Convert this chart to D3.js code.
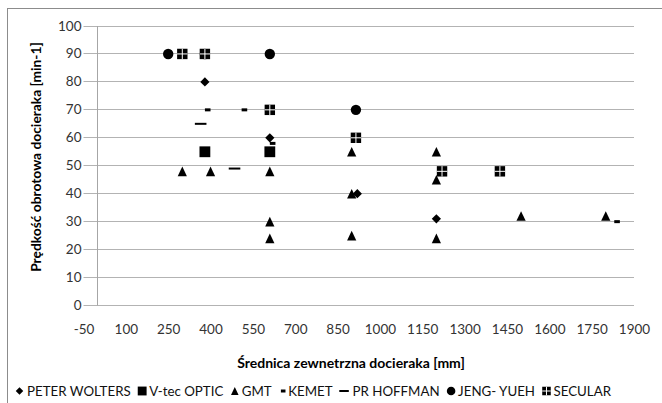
<!DOCTYPE html>
<html>
<head>
<meta charset="utf-8">
<script src="https://cdn.jsdelivr.net/npm/d3@7"></script>
<style>
  body { margin: 0; background: #fff; }
  svg { display: block; font-family: Lato, "Liberation Sans", sans-serif; }
</style>
</head>
<body>
<div id="chart"></div>
<script>
// tick labels
var xTickValues = [-50, 100, 250, 400, 550, 700, 850, 1000, 1150, 1300, 1450, 1600, 1750, 1900];
var yTickValues = [0, 10, 20, 30, 40, 50, 60, 70, 80, 90, 100];

// series values [diameter mm, speed min-1]
var seriesNames = ["PETER WOLTERS", "V-tec OPTIC", "GMT", "KEMET", "PR HOFFMAN", "JENG- YUEH", "SECULAR"];
var peterWolters = [[380, 80], [610, 60], [920, 40], [1200, 31]];
var vtecOptic = [[380, 55], [610, 55]];
var gmt = [[300, 48], [400, 48], [610, 48], [610, 30], [610, 24], [900, 55], [900, 40], [900, 25],
           [1200, 55], [1200, 45], [1200, 24], [1500, 32], [1800, 32]];
var kemet = [[390, 70], [520, 70], [620, 58], [1840, 30]];
var prHoffman = [[365, 65], [485, 49]];
var jengYueh = [[250, 90], [380, 90], [610, 90], [915, 70]];
var secular = [[300, 90], [380, 90], [610, 70], [915, 60], [1220, 48], [1425, 48]];

var seriesData = [peterWolters, vtecOptic, gmt, kemet, prHoffman, jengYueh, secular];
var markerTypes = ["diamond", "square", "triangle", "kemet", "hoffman", "circle", "secular"];

var svgWidth = 662;
var svgHeight = 403;

var svg = d3.select("#chart")
  .append("svg")
  .attr("width", svgWidth)
  .attr("height", svgHeight);

// chart frame (runs off the right and bottom edge in the picture)
svg.append("rect")
  .attr("x", 7.5)
  .attr("y", 8.5)
  .attr("width", 700)
  .attr("height", 420)
  .attr("fill", "none")
  .attr("stroke", "#8c8c8c");

var xScale = d3.scaleLinear().domain([-50, 1900]).range([83.5, 634]);
var yScale = d3.scaleLinear().domain([0, 100]).range([305.5, 26]);

function crisp(v) { return Math.round(v - 0.5) + 0.5; }

// horizontal gridlines + y labels
var yAxis = svg.append("g")
  .attr("transform", `translate(${xScale(-50)},0)`)
  .call(d3.axisLeft(yScale)
    .tickValues(yTickValues)
    .tickSize(-(xScale(1900) - xScale(-50)))
    .tickPadding(2));
yAxis.select(".domain").remove();
yAxis.selectAll(".tick").attr("transform", d => `translate(0,${crisp(yScale(d))})`);
yAxis.selectAll(".tick line").attr("stroke", "#b3b3b3");
yAxis.selectAll(".tick text")
  .attr("fill", "#333")
  .style("font-size", "13.5px")
  .style("font-family", "Lato, sans-serif");

// x labels, no ticks
var xAxis = svg.append("g")
  .attr("transform", `translate(0,${yScale(0)})`)
  .call(d3.axisBottom(xScale)
    .tickValues(xTickValues)
    .tickFormat(d => String(d))
    .tickSize(0)
    .tickPadding(19));
xAxis.select(".domain").remove();
xAxis.selectAll(".tick text")
  .attr("fill", "#333")
  .style("font-size", "13.5px")
  .style("font-family", "Lato, sans-serif");

// vertical axis crosses at x = 0
svg.append("line")
  .attr("x1", crisp(xScale(0)))
  .attr("x2", crisp(xScale(0)))
  .attr("y1", yScale(100))
  .attr("y2", yScale(0))
  .attr("stroke", "#a6a6a6");

// axis titles
svg.append("text")
  .attr("x", 351)
  .attr("y", 368)
  .attr("text-anchor", "middle")
  .style("font-size", "14px")
  .style("font-weight", "bold")
  .text("Średnica zewnetrzna docieraka [mm]");

svg.append("text")
  .attr("transform", "translate(40.5,157) rotate(-90)")
  .attr("text-anchor", "middle")
  .style("font-size", "13.8px")
  .style("font-weight", "bold")
  .text("Prędkość obrotowa docieraka [min-1]");

// draws one marker of a given type centered at 0,0 inside g
function drawMarker(g, type, s) {
  s = s || 1;
  if (type === "diamond") {
    var r = 4.6 * s;
    g.append("path").attr("d", `M0,${-r}L${r},0L0,${r}L${-r},0Z`).attr("fill", "#000");
  } else if (type === "square") {
    var h = 5.4 * s;
    g.append("rect").attr("x", -h).attr("y", -h).attr("width", 2 * h).attr("height", 2 * h).attr("fill", "#000");
  } else if (type === "triangle") {
    var w = 4.6 * s, t = 4.8 * s;
    g.append("path").attr("d", `M0,${-t}L${w},${t}L${-w},${t}Z`).attr("fill", "#000");
  } else if (type === "kemet") {
    g.append("rect").attr("x", -2.8 * s).attr("y", -1.5).attr("width", 5.6 * s).attr("height", 3).attr("fill", "#000");
  } else if (type === "hoffman") {
    g.append("rect").attr("x", -5.8 * s).attr("y", -1).attr("width", 11.6 * s).attr("height", 2).attr("fill", "#000");
  } else if (type === "circle") {
    g.append("circle").attr("r", 5.2 * s).attr("fill", "#000");
  } else if (type === "secular") {
    var q = 5.2 * s;
    g.append("rect").attr("x", -q).attr("y", -q).attr("width", 2 * q).attr("height", 2 * q).attr("fill", "#000");
    g.append("line").attr("x1", -q).attr("x2", q).attr("y1", 0).attr("y2", 0).attr("stroke", "#fff").attr("stroke-width", 1);
    g.append("line").attr("y1", -q).attr("y2", q).attr("x1", 0).attr("x2", 0).attr("stroke", "#fff").attr("stroke-width", 1);
  }
}

// points, series drawn in order so later ones sit on top
seriesData.forEach(function(points, i) {
  var group = svg.append("g").attr("class", "series");
  group.selectAll("g")
    .data(points)
    .enter()
    .append("g")
    .attr("transform", d => `translate(${xScale(d[0])},${yScale(d[1])})`)
    .each(function() { drawMarker(d3.select(this), markerTypes[i], 1); });
});

// legend along the bottom: measure texts, spread the entries from 15 to 611
var legendY = 391;
var legendStart = 27, legendEnd = 611;
var textOffset = { diamond: 7.5, square: 7, triangle: 7, kemet: 5, hoffman: 8.5, circle: 7, secular: 7 };
var legend = svg.append("g");
var labels = seriesNames.map(function(name) {
  return legend.append("text")
    .attr("y", legendY)
    .attr("dy", "0.36em")
    .style("font-size", "13.3px")
    .attr("fill", "#111")
    .text(name);
});
var widths = labels.map(t => t.node().getComputedTextLength());
var offsets = markerTypes.map(m => textOffset[m]);
var free = legendEnd - legendStart - d3.sum(widths) - d3.sum(offsets.slice(1));
var gap = free / (seriesNames.length - 1);
var tx = legendStart;
labels.forEach(function(t, i) {
  if (i > 0) tx += offsets[i];
  t.attr("x", tx);
  var m = legend.append("g").attr("transform", `translate(${tx - offsets[i]},${legendY})`);
  drawMarker(m, markerTypes[i], 0.82);
  tx += widths[i] + gap;
});
</script>
</body>
</html>
